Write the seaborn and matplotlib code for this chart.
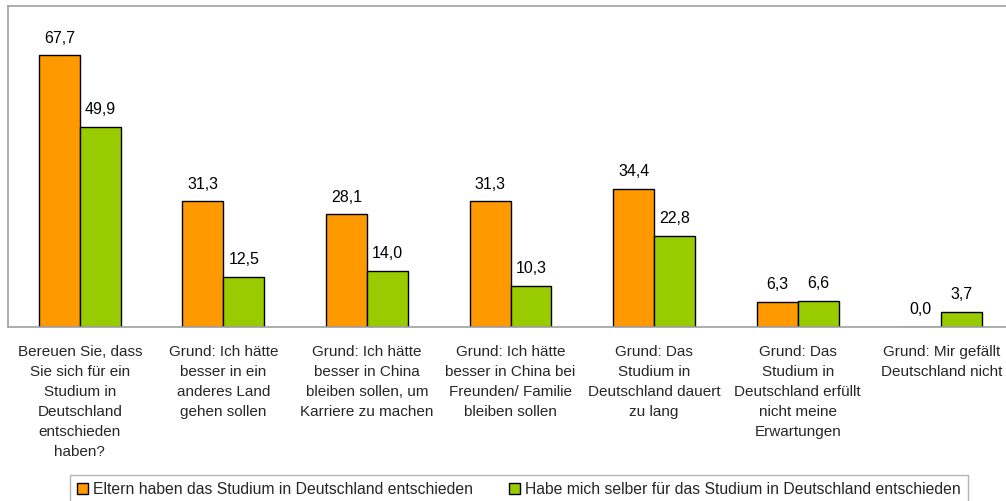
import matplotlib
matplotlib.use("Agg")
import matplotlib.pyplot as plt
import seaborn as sns
import pandas as pd
import numpy as np

categories = [
    "Bereuen Sie, dass\nSie sich für ein\nStudium in\nDeutschland\nentschieden\nhaben?",
    "Grund: Ich hätte\nbesser in ein\nanderes Land\ngehen sollen",
    "Grund: Ich hätte\nbesser in China\nbleiben sollen, um\nKarriere zu machen",
    "Grund: Ich hätte\nbesser in China bei\nFreunden/ Familie\nbleiben sollen",
    "Grund: Das\nStudium in\nDeutschland dauert\nzu lang",
    "Grund: Das\nStudium in\nDeutschland erfüllt\nnicht meine\nErwartungen",
    "Grund: Mir gefällt\nDeutschland nicht",
]
series_names = [
    "Eltern haben das Studium in Deutschland entschieden",
    "Habe mich selber für das Studium in Deutschland entschieden",
]
eltern = [67.7, 31.3, 28.1, 31.3, 34.4, 6.3, 0.0]
selber = [49.9, 12.5, 14.0, 10.3, 22.8, 6.6, 3.7]
colors = ["#FF9900", "#99CC00"]

df = pd.DataFrame({
    "Kategorie": categories * 2,
    "Gruppe": [series_names[0]] * len(categories) + [series_names[1]] * len(categories),
    "Wert": eltern + selber,
})

sns.set_theme(style="white")
plt.rcParams["font.family"] = ["Liberation Sans", "DejaVu Sans"]
plt.rcParams["font.size"] = 11

fig = plt.figure(figsize=(10.06, 5.01), dpi=100)
ax = fig.add_axes([8 / 1006, 1 - 327 / 501, 1005 / 1006, 321 / 501])

sns.barplot(data=df, x="Kategorie", y="Wert", hue="Gruppe", hue_order=series_names,
            palette=colors, width=0.57, gap=0, edgecolor="black", linewidth=1,
            saturation=1, errorbar=None, ax=ax)

for cont in ax.containers:
    ax.bar_label(cont, labels=[f"{v:.1f}".replace(".", ",") for v in cont.datavalues],
                 padding=7, fontsize=11.5, color="black")

ax.set_ylim(0, 80)
ax.set_xlim(-0.5, 6.5)
ax.set_yticks([])
ax.set_xlabel("")
ax.set_ylabel("")

ax.set_xticks(np.arange(len(categories)))
ax.set_xticklabels(categories, fontsize=11, linespacing=1.54, va="top")
ax.tick_params(axis="x", which="major", length=0, pad=13)
ax.set_xticks(np.arange(-0.5, len(categories)), minor=True)
ax.tick_params(axis="x", which="minor", length=5, width=1, color="#a0a0a0", direction="out")

for side in ["left", "top", "bottom"]:
    ax.spines[side].set_color("#a0a0a0")
    ax.spines[side].set_linewidth(1.2)
ax.spines["right"].set_visible(False)

handles, labels = ax.get_legend_handles_labels()
ax.legend_.remove()
leg = fig.legend(handles, labels, loc="upper center", bbox_to_anchor=(519 / 1006, 1 - 475 / 501),
                 ncol=2, frameon=True, fancybox=False, edgecolor="#a0a0a0",
                 fontsize=11.3, handlelength=0.7, handleheight=0.7, handletextpad=0.3,
                 columnspacing=2.3, borderpad=0.45, borderaxespad=0)
leg.get_frame().set_linewidth(1)

fig.savefig("out.png", dpi=100)
